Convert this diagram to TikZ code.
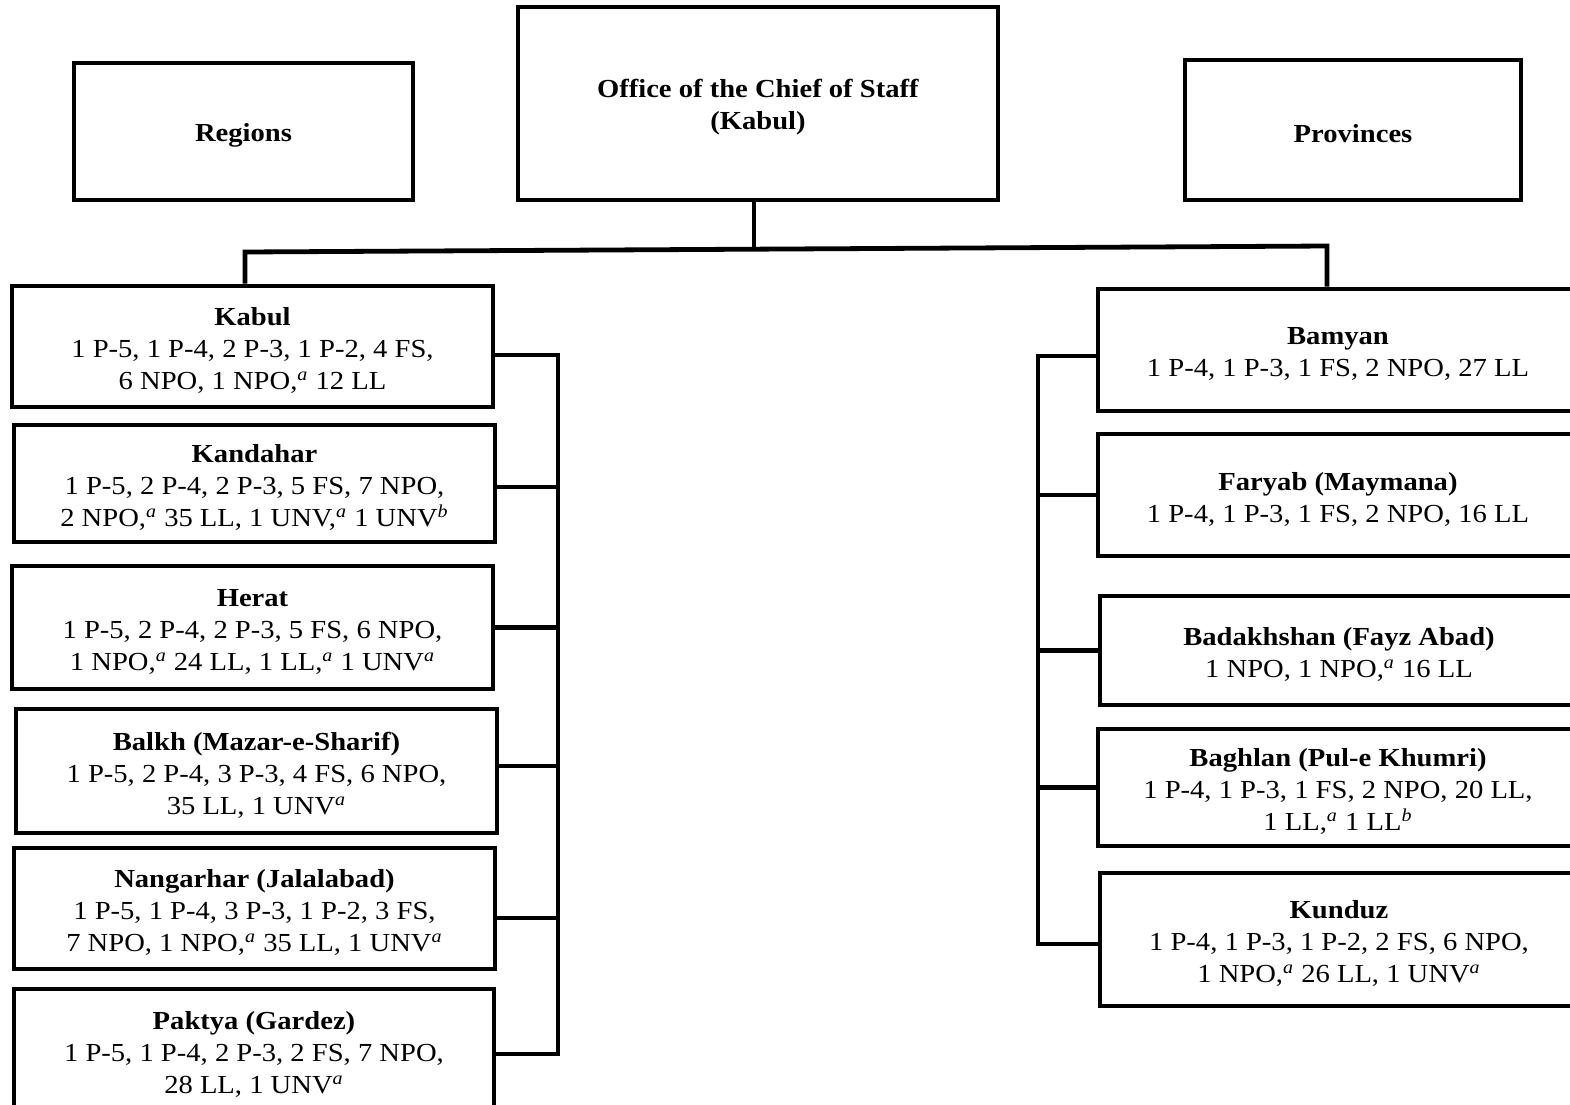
\documentclass[tikz,border=0pt]{standalone}
\usepackage{fontspec}
\setmainfont{Liberation Serif}[FakeStretch=1.1]
\begin{document}
\begin{tikzpicture}[x=0.5pt,y=-0.5pt,
  box/.style={draw, line width=2.4pt, inner sep=0pt, fill=white},
  txt/.style={align=center, inner sep=0pt, yshift=-2pt, font=\fontsize{13}{16}\selectfont},
  conn/.style={line width=2.4pt, line join=miter}]
\useasboundingbox (0,0) rectangle (1570,1104);
\clip (0,0) rectangle (1570,1104);
\newcommand{\supa}{\textsuperscript{\textit{a}}}
\newcommand{\supb}{\textsuperscript{\textit{b}}}
% top row
\node[box, minimum width=169.5pt, minimum height=68.5pt, label={[txt]center:{\textbf{Regions}}}] (regions) at (243.5,131.5) {};
\node[box, minimum width=240pt, minimum height=96.5pt, label={[txt]center:{\textbf{Office of the Chief of Staff}\\\textbf{(Kabul)}}}] (office) at (758,103.5) {};
\node[box, minimum width=168pt, minimum height=70pt, label={[txt]center:{\textbf{Provinces}}}] (provinces) at (1353,130) {};
% left column
\node[box, minimum width=240.5pt, minimum height=60.5pt, label={[txt]center:{\textbf{Kabul}\\1 P-5, 1 P-4, 2 P-3, 1 P-2, 4 FS,\\6 NPO, 1 NPO,\supa{} 12 LL}}] (kabul) at (252.5,346.5) {};
\node[box, minimum width=240.5pt, minimum height=58.5pt, label={[txt]center:{\textbf{Kandahar}\\1 P-5, 2 P-4, 2 P-3, 5 FS, 7 NPO,\\2 NPO,\supa{} 35 LL, 1 UNV,\supa{} 1 UNV\supb}}] (kandahar) at (254.5,483.5) {};
\node[box, minimum width=240.5pt, minimum height=61.5pt, label={[txt]center:{\textbf{Herat}\\1 P-5, 2 P-4, 2 P-3, 5 FS, 6 NPO,\\1 NPO,\supa{} 24 LL, 1 LL,\supa{} 1 UNV\supa}}] (herat) at (252.5,627.5) {};
\node[box, minimum width=240.5pt, minimum height=62pt, label={[txt]center:{\textbf{Balkh (Mazar-e-Sharif)}\\1 P-5, 2 P-4, 3 P-3, 4 FS, 6 NPO,\\35 LL, 1 UNV\supa}}] (balkh) at (256.5,771) {};
\node[box, minimum width=240.5pt, minimum height=60.5pt, label={[txt]center:{\textbf{Nangarhar (Jalalabad)}\\1 P-5, 1 P-4, 3 P-3, 1 P-2, 3 FS,\\7 NPO, 1 NPO,\supa{} 35 LL, 1 UNV\supa}}] (nangarhar) at (254.5,908.5) {};
\node[box, minimum width=240pt, minimum height=61pt, label={[txt]center:{\textbf{Paktya (Gardez)}\\1 P-5, 1 P-4, 2 P-3, 2 FS, 7 NPO,\\28 LL, 1 UNV\supa}}] (paktya) at (254,1050) {};
% right column
\node[box, minimum width=240pt, minimum height=61pt, label={[txt]center:{\textbf{Bamyan}\\1 P-4, 1 P-3, 1 FS, 2 NPO, 27 LL}}] (bamyan) at (1338,350) {};
\node[box, minimum width=240pt, minimum height=61pt, label={[txt]center:{\textbf{Faryab (Maymana)}\\1 P-4, 1 P-3, 1 FS, 2 NPO, 16 LL}}] (faryab) at (1338,495) {};
\node[box, minimum width=239pt, minimum height=54.5pt, label={[txt]center:{\textbf{Badakhshan (Fayz Abad)}\\1 NPO, 1 NPO,\supa{} 16 LL}}] (badakh) at (1339,650.5) {};
\node[box, minimum width=240pt, minimum height=58.5pt, label={[txt]center:{\textbf{Baghlan (Pul-e Khumri)}\\1 P-4, 1 P-3, 1 FS, 2 NPO, 20 LL,\\1 LL,\supa{} 1 LL\supb}}] (baghlan) at (1338,787.5) {};
\node[box, minimum width=239pt, minimum height=66.5pt, label={[txt]center:{\textbf{Kunduz}\\1 P-4, 1 P-3, 1 P-2, 2 FS, 6 NPO,\\1 NPO,\supa{} 26 LL, 1 UNV\supa}}] (kunduz) at (1339,939.5) {};
% main tree
\coordinate (lj) at (245,252);
\coordinate (rj) at (1327,246);
\coordinate (mj) at (754,249);
\draw[conn] (lj |- kabul.north) -- (lj) -- (rj) -- (rj |- bamyan.north);
\draw[conn] (office.south -| mj) -- (mj);
% left bus
\coordinate (lbus) at (558,355);
\draw[conn] ([yshift=-4.25pt]kabul.east) -- ([yshift=-4.25pt]kabul.east -| lbus) -- ([yshift=-2pt]paktya.east -| lbus) -- ([yshift=-2pt]paktya.east);
\draw[conn] ([yshift=-1.75pt]kandahar.east) -- ([yshift=-1.75pt]kandahar.east -| lbus);
\draw[conn] (herat.east) -- (herat.east -| lbus);
\draw[conn] ([yshift=2.5pt]balkh.east) -- ([yshift=2.5pt]balkh.east -| lbus);
\draw[conn] ([yshift=-4.75pt]nangarhar.east) -- ([yshift=-4.75pt]nangarhar.east -| lbus);
% right bus
\coordinate (rbus) at (1038,356);
\draw[conn] ([yshift=-3pt]bamyan.west) -- ([yshift=-3pt]bamyan.west -| rbus) -- ([yshift=-2.25pt]kunduz.west -| rbus) -- ([yshift=-2.25pt]kunduz.west);
\draw[conn] (faryab.west) -- (faryab.west -| rbus);
\draw[conn] (badakh.west) -- (badakh.west -| rbus);
\draw[conn] (baghlan.west) -- (baghlan.west -| rbus);
\end{tikzpicture}
\end{document}
